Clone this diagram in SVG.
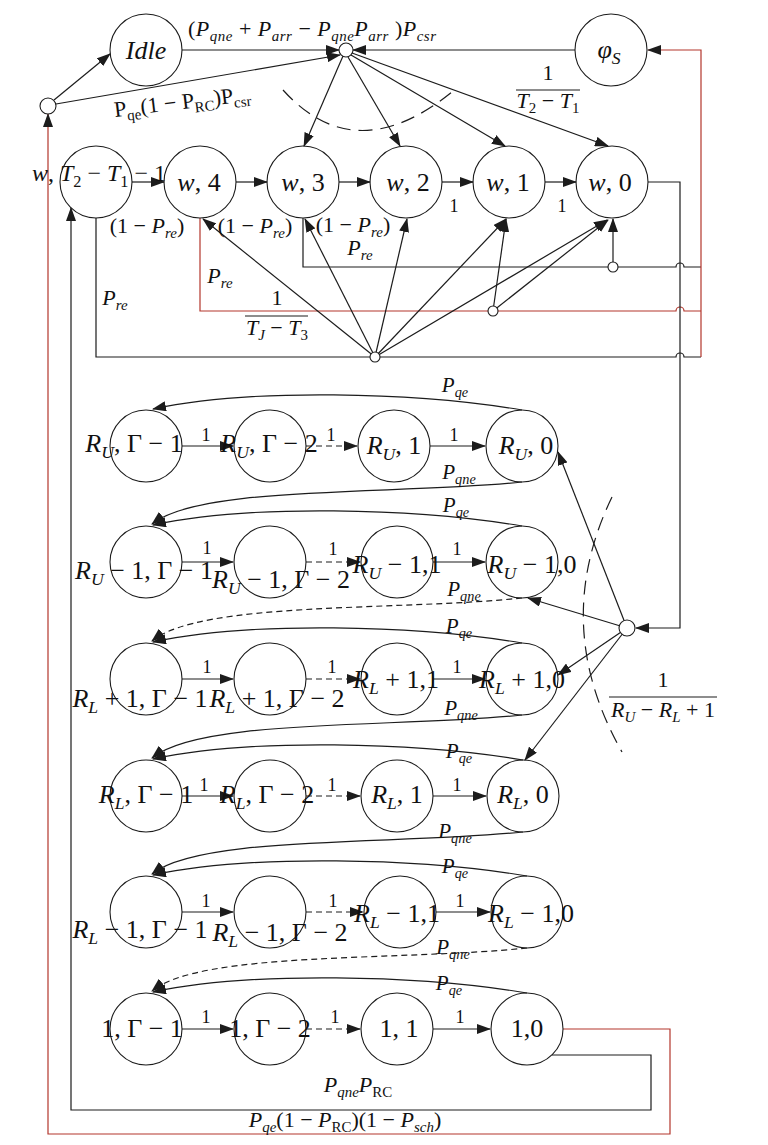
<svg xmlns="http://www.w3.org/2000/svg" width="768" height="1145" viewBox="0 0 768 1145">
<style>
.c{fill:none;stroke:#1c1c1c;stroke-width:1.2}
.r{stroke:#b3362c}
.d{stroke-dasharray:6 4}
.dl{stroke-dasharray:14 8}
.nd circle{fill:none;stroke:#1c1c1c;stroke-width:1.1}
.hb circle{fill:#fff;stroke:#1c1c1c;stroke-width:1.1}
text{font-family:"Liberation Serif","DejaVu Serif",serif;fill:#111}
.n{font-size:26px}
.e{font-size:22px}
.q{font-size:21px}
.s{font-size:18px}
.i{font-style:italic}
.sb{font-size:68%}
</style>
<defs>
<marker id="ah" markerUnits="userSpaceOnUse" markerWidth="14" markerHeight="10" viewBox="0 0 14 10" refX="13" refY="5" orient="auto"><path d="M0,0 L14,5 L0,10 z" fill="#1c1c1c"/></marker>
</defs>
<rect width="768" height="1145" fill="#fff"/>

<g id="connectors">
<path class="c" d="M54 100 L110 54" marker-end="url(#ah)"/>
<path class="c" d="M56 104 L340 55" marker-end="url(#ah)"/>
<path class="c" d="M182 50 H339" marker-end="url(#ah)"/>
<path class="c" d="M575 50 H353" marker-end="url(#ah)"/>
<path class="c" d="M343 56 L304 146" marker-end="url(#ah)"/>
<path class="c" d="M348 57 L400 146" marker-end="url(#ah)"/>
<path class="c" d="M351 55 L505 146" marker-end="url(#ah)"/>
<path class="c" d="M352 53 L608 146" marker-end="url(#ah)"/>
<path class="c dl" d="M283 90 Q355 170 452 92"/>
<path class="c" d="M132 182 H164" marker-end="url(#ah)"/>
<path class="c" d="M236 182 H267" marker-end="url(#ah)"/>
<path class="c" d="M339 182 H370" marker-end="url(#ah)"/>
<path class="c" d="M442 182 H473" marker-end="url(#ah)"/>
<path class="c" d="M545 182 H576" marker-end="url(#ah)"/>
<path class="c" d="M96 218 V357 H676 A4 4 0 0 1 684 357 H701"/>
<path class="c r" d="M200 218 V311 H676 A4 4 0 0 1 684 311 H701"/>
<path class="c" d="M303 218 V267 H676 A4 4 0 0 1 684 267 H701"/>
<path class="c r" d="M701 357 V50 H648" marker-end="url(#ah)"/>
<path class="c" d="M648 182 H680 V628 H636" marker-end="url(#ah)"/>
<path class="c" d="M375 357 L203 219" marker-end="url(#ah)"/>
<path class="c" d="M375 357 L305 219" marker-end="url(#ah)"/>
<path class="c" d="M375 357 L407 219" marker-end="url(#ah)"/>
<path class="c" d="M375 357 L506 219" marker-end="url(#ah)"/>
<path class="c" d="M375 357 L607 220" marker-end="url(#ah)"/>
<path class="c" d="M493 311 L506 219" marker-end="url(#ah)"/>
<path class="c" d="M493 311 L608 220" marker-end="url(#ah)"/>
<path class="c" d="M613 267 V219" marker-end="url(#ah)"/>
<path class="c" d="M627 628 L558 452" marker-end="url(#ah)"/>
<path class="c" d="M627 628 L528 598" marker-end="url(#ah)"/>
<path class="c" d="M627 628 L558 675" marker-end="url(#ah)"/>
<path class="c" d="M627 628 L525 760" marker-end="url(#ah)"/>
<path class="c dl" d="M612 497 Q550 625 622 752"/>
<path class="c" d="M182 446 H233" marker-end="url(#ah)"/>
<path class="c d" d="M306 446 H357" marker-end="url(#ah)"/>
<path class="c" d="M430 446 H485" marker-end="url(#ah)"/>
<path class="c" d="M182 562 H233" marker-end="url(#ah)"/>
<path class="c d" d="M306 562 H360" marker-end="url(#ah)"/>
<path class="c" d="M433 562 H485" marker-end="url(#ah)"/>
<path class="c" d="M182 679 H233" marker-end="url(#ah)"/>
<path class="c d" d="M306 679 H360" marker-end="url(#ah)"/>
<path class="c" d="M433 679 H485" marker-end="url(#ah)"/>
<path class="c" d="M182 796 H233" marker-end="url(#ah)"/>
<path class="c d" d="M306 796 H360" marker-end="url(#ah)"/>
<path class="c" d="M433 796 H486" marker-end="url(#ah)"/>
<path class="c" d="M182 912 H233" marker-end="url(#ah)"/>
<path class="c d" d="M306 912 H363" marker-end="url(#ah)"/>
<path class="c" d="M436 912 H490" marker-end="url(#ah)"/>
<path class="c" d="M182 1029 H233" marker-end="url(#ah)"/>
<path class="c d" d="M306 1029 H360" marker-end="url(#ah)"/>
<path class="c" d="M433 1029 H490" marker-end="url(#ah)"/>
<path class="c" d="M522 410 C415 392 250 388 153 409" marker-end="url(#ah)"/>
<path class="c" d="M522 526 C415 508 250 504 153 525" marker-end="url(#ah)"/>
<path class="c" d="M522 643 C415 625 250 621 153 642" marker-end="url(#ah)"/>
<path class="c" d="M523 760 C416 742 250 738 153 759" marker-end="url(#ah)"/>
<path class="c" d="M527 876 C420 858 250 854 153 875" marker-end="url(#ah)"/>
<path class="c" d="M527 993 C420 975 250 971 153 992" marker-end="url(#ah)"/>
<path class="c" d="M522 482 C398 495 200 485 152 524" marker-end="url(#ah)"/>
<path class="c d" d="M522 598 C398 611 200 601 152 641" marker-end="url(#ah)"/>
<path class="c" d="M522 715 C398 728 200 718 152 758" marker-end="url(#ah)"/>
<path class="c" d="M523 832 C399 845 200 835 152 874" marker-end="url(#ah)"/>
<path class="c d" d="M527 948 C403 961 200 951 152 991" marker-end="url(#ah)"/>
<path class="c" d="M552 1055 H651 V1110 H71 V208" marker-end="url(#ah)"/>
<path class="c r" d="M563 1029 H670 V1134 H48 V114" marker-end="url(#ah)"/>
<text class="e" x="188" y="36" letter-spacing="0.5">(<tspan class="i">P</tspan><tspan class="i sb" dy="5">qne</tspan><tspan dy="-5"> + </tspan><tspan class="i">P</tspan><tspan class="i sb" dy="5">arr</tspan><tspan dy="-5"> − </tspan><tspan class="i">P</tspan><tspan class="i sb" dy="5">qne</tspan><tspan class="i" dy="-5">P</tspan><tspan class="i sb" dy="5">arr</tspan><tspan dy="-5" dx="6">)</tspan><tspan class="i">P</tspan><tspan class="i sb" dy="5">csr</tspan></text>
<text class="e" x="115" y="117" transform="rotate(-6.8 115 117)">P<tspan class="sb" dy="5">qe</tspan><tspan dy="-5">(1 − P</tspan><tspan class="sb" dy="5">RC</tspan><tspan dy="-5">)P</tspan><tspan class="sb" dy="5">csr</tspan></text>
<text class="e" x="548" y="80" text-anchor="middle">1</text>
<path class="c" d="M516 90 H580"/>
<text class="e" x="548" y="108" text-anchor="middle"><tspan class="i">T</tspan><tspan class="sb" dy="5">2</tspan><tspan dy="-5"> − </tspan><tspan class="i">T</tspan><tspan class="sb" dy="5">1</tspan></text>
<text class="e" x="147" y="233" text-anchor="middle">(1 − <tspan class="i">P</tspan><tspan class="i sb" dy="5">re</tspan><tspan dy="-5">)</tspan></text>
<text class="e" x="255" y="233" text-anchor="middle">(1 − <tspan class="i">P</tspan><tspan class="i sb" dy="5">re</tspan><tspan dy="-5">)</tspan></text>
<text class="e" x="353" y="232" text-anchor="middle">(1 − <tspan class="i">P</tspan><tspan class="i sb" dy="5">re</tspan><tspan dy="-5">)</tspan></text>
<text class="e i" x="360" y="255" text-anchor="middle">P<tspan class="sb" dy="5">re</tspan></text>
<text class="e i" x="220" y="283" text-anchor="middle">P<tspan class="sb" dy="5">re</tspan></text>
<text class="e i" x="115" y="305" text-anchor="middle">P<tspan class="sb" dy="5">re</tspan></text>
<text class="s" x="454" y="212" text-anchor="middle">1</text>
<text class="s" x="562" y="212" text-anchor="middle">1</text>
<text class="e" x="277" y="305" text-anchor="middle">1</text>
<path class="c" d="M245 316 H308"/>
<text class="e" x="277" y="335" text-anchor="middle"><tspan class="i">T</tspan><tspan class="i sb" dy="5">J</tspan><tspan dy="-5"> − </tspan><tspan class="i">T</tspan><tspan class="sb" dy="5">3</tspan></text>
<text class="e" x="663" y="687" text-anchor="middle">1</text>
<path class="c" d="M609 697 H717"/>
<text class="e" x="663" y="717" text-anchor="middle"><tspan class="i">R</tspan><tspan class="i sb" dy="5">U</tspan><tspan dy="-5"> − </tspan><tspan class="i">R</tspan><tspan class="i sb" dy="5">L</tspan><tspan dy="-5"> + 1</tspan></text>
<text class="s" x="206" y="441" text-anchor="middle">1</text>
<text class="s" x="331" y="441" text-anchor="middle">1</text>
<text class="s" x="454" y="441" text-anchor="middle">1</text>
<text class="s" x="207" y="554" text-anchor="middle">1</text>
<text class="s" x="333" y="555" text-anchor="middle">1</text>
<text class="s" x="457" y="555" text-anchor="middle">1</text>
<text class="s" x="207" y="673" text-anchor="middle">1</text>
<text class="s" x="332" y="673" text-anchor="middle">1</text>
<text class="s" x="457" y="673" text-anchor="middle">1</text>
<text class="s" x="204" y="791" text-anchor="middle">1</text>
<text class="s" x="332" y="791" text-anchor="middle">1</text>
<text class="s" x="457" y="791" text-anchor="middle">1</text>
<text class="s" x="206" y="907" text-anchor="middle">1</text>
<text class="s" x="333" y="907" text-anchor="middle">1</text>
<text class="s" x="460" y="907" text-anchor="middle">1</text>
<text class="s" x="206" y="1023" text-anchor="middle">1</text>
<text class="s" x="335" y="1023" text-anchor="middle">1</text>
<text class="s" x="460" y="1023" text-anchor="middle">1</text>
<text class="q i" x="455" y="392" text-anchor="middle">P<tspan class="sb" dy="5">qe</tspan></text>
<text class="q i" x="456" y="512" text-anchor="middle">P<tspan class="sb" dy="5">qe</tspan></text>
<text class="q i" x="459" y="633" text-anchor="middle">P<tspan class="sb" dy="5">qe</tspan></text>
<text class="q i" x="459" y="758" text-anchor="middle">P<tspan class="sb" dy="5">qe</tspan></text>
<text class="q i" x="455" y="873" text-anchor="middle">P<tspan class="sb" dy="5">qe</tspan></text>
<text class="q i" x="449" y="990" text-anchor="middle">P<tspan class="sb" dy="5">qe</tspan></text>
<text class="q i" x="459" y="479" text-anchor="middle">P<tspan class="sb" dy="5">qne</tspan></text>
<text class="q i" x="464" y="596" text-anchor="middle">P<tspan class="sb" dy="5">qne</tspan></text>
<text class="q i" x="461" y="715" text-anchor="middle">P<tspan class="sb" dy="5">qne</tspan></text>
<text class="q i" x="455" y="838" text-anchor="middle">P<tspan class="sb" dy="5">qne</tspan></text>
<text class="q i" x="453" y="954" text-anchor="middle">P<tspan class="sb" dy="5">qne</tspan></text>
<text class="e" x="358" y="1092" text-anchor="middle"><tspan class="i">P</tspan><tspan class="i sb" dy="5">qne</tspan><tspan class="i" dy="-5">P</tspan><tspan class="sb" dy="5">RC</tspan></text>
<text class="e" x="345" y="1127" text-anchor="middle"><tspan class="i">P</tspan><tspan class="i sb" dy="5">qe</tspan><tspan dy="-5">(1 − </tspan><tspan class="i">P</tspan><tspan class="sb" dy="5">RC</tspan><tspan dy="-5">)(1 − </tspan><tspan class="i">P</tspan><tspan class="i sb" dy="5">sch</tspan><tspan dy="-5">)</tspan></text>
</g>

<g id="hub_top" class="hb"><circle cx="346" cy="50" r="7"/></g>
<g id="hub_left" class="hb"><circle cx="48" cy="106" r="8"/></g>
<g id="hub_bottom" class="hb"><circle cx="375" cy="357" r="5"/></g>
<g id="hub_j1" class="hb"><circle cx="493" cy="311" r="5"/></g>
<g id="hub_j0" class="hb"><circle cx="613" cy="267" r="5"/></g>
<g id="hub_right" class="hb"><circle cx="627" cy="628" r="8"/></g>

<g id="n_idle" class="nd"><circle cx="146" cy="50" r="36"/><text class="n i" x="146" y="59" text-anchor="middle">Idle</text></g>
<g id="n_phi" class="nd"><circle cx="611" cy="50" r="36"/><text class="n i" x="609" y="58" text-anchor="middle">φ<tspan class="sb" dy="6">S</tspan></text></g>

<g id="n_wT" class="nd"><circle cx="96" cy="182" r="36"/><text x="99" y="181" font-size="24" text-anchor="middle"><tspan class="i">w</tspan>, <tspan class="i">T</tspan><tspan class="sb" dy="6">2</tspan><tspan dy="-6"> − </tspan><tspan class="i">T</tspan><tspan class="sb" dy="6">1</tspan><tspan dy="-6"> − 1</tspan></text></g>
<g id="n_w4" class="nd"><circle cx="200" cy="182" r="36"/><text class="n" x="199" y="191" text-anchor="middle"><tspan class="i">w</tspan>, 4</text></g>
<g id="n_w3" class="nd"><circle cx="303" cy="182" r="36"/><text class="n" x="303" y="191" text-anchor="middle"><tspan class="i">w</tspan>, 3</text></g>
<g id="n_w2" class="nd"><circle cx="406" cy="182" r="36"/><text class="n" x="408" y="191" text-anchor="middle"><tspan class="i">w</tspan>, 2</text></g>
<g id="n_w1" class="nd"><circle cx="509" cy="182" r="36"/><text class="n" x="508" y="191" text-anchor="middle"><tspan class="i">w</tspan>, 1</text></g>
<g id="n_w0" class="nd"><circle cx="612" cy="182" r="36"/><text class="n" x="610" y="191" text-anchor="middle"><tspan class="i">w</tspan>, 0</text></g>

<g id="n_RU_G1" class="nd"><circle cx="146" cy="446" r="36"/><text class="n" x="134" y="452" text-anchor="middle"><tspan class="i">R</tspan><tspan class="i sb" dy="6">U</tspan><tspan dy="-6">, Γ − 1</tspan></text></g>
<g id="n_RU_G2" class="nd"><circle cx="270" cy="446" r="36"/><text class="n" x="269" y="452" text-anchor="middle"><tspan class="i">R</tspan><tspan class="i sb" dy="6">U</tspan><tspan dy="-6">, Γ − 2</tspan></text></g>
<g id="n_RU_1" class="nd"><circle cx="394" cy="446" r="36"/><text class="n" x="394" y="454" text-anchor="middle"><tspan class="i">R</tspan><tspan class="i sb" dy="6">U</tspan><tspan dy="-6">, 1</tspan></text></g>
<g id="n_RU_0" class="nd"><circle cx="522" cy="446" r="36"/><text class="n" x="526" y="454" text-anchor="middle"><tspan class="i">R</tspan><tspan class="i sb" dy="6">U</tspan><tspan dy="-6">, 0</tspan></text></g>

<g id="n_RUm1_G1" class="nd"><circle cx="146" cy="562" r="36"/><text class="n" x="144" y="579" text-anchor="middle"><tspan class="i">R</tspan><tspan class="i sb" dy="6">U</tspan><tspan dy="-6"> − 1, Γ − 1</tspan></text></g>
<g id="n_RUm1_G2" class="nd"><circle cx="270" cy="562" r="36"/><text class="n" x="281" y="588" text-anchor="middle"><tspan class="i">R</tspan><tspan class="i sb" dy="6">U</tspan><tspan dy="-6"> − 1, Γ − 2</tspan></text></g>
<g id="n_RUm1_1" class="nd"><circle cx="397" cy="562" r="36"/><text class="n" x="397" y="573" text-anchor="middle"><tspan class="i">R</tspan><tspan class="i sb" dy="6">U</tspan><tspan dy="-6"> − 1,1</tspan></text></g>
<g id="n_RUm1_0" class="nd"><circle cx="522" cy="562" r="36"/><text class="n" x="532" y="573" text-anchor="middle"><tspan class="i">R</tspan><tspan class="i sb" dy="6">U</tspan><tspan dy="-6"> − 1,0</tspan></text></g>

<g id="n_RLp1_G1" class="nd"><circle cx="146" cy="679" r="36"/><text class="n" x="140" y="707" text-anchor="middle"><tspan class="i">R</tspan><tspan class="i sb" dy="6">L</tspan><tspan dy="-6"> + 1, Γ − 1</tspan></text></g>
<g id="n_RLp1_G2" class="nd"><circle cx="270" cy="679" r="36"/><text class="n" x="277" y="707" text-anchor="middle"><tspan class="i">R</tspan><tspan class="i sb" dy="6">L</tspan><tspan dy="-6"> + 1, Γ − 2</tspan></text></g>
<g id="n_RLp1_1" class="nd"><circle cx="397" cy="679" r="36"/><text class="n" x="396" y="688" text-anchor="middle"><tspan class="i">R</tspan><tspan class="i sb" dy="6">L</tspan><tspan dy="-6"> + 1,1</tspan></text></g>
<g id="n_RLp1_0" class="nd"><circle cx="522" cy="679" r="36"/><text class="n" x="522" y="688" text-anchor="middle"><tspan class="i">R</tspan><tspan class="i sb" dy="6">L</tspan><tspan dy="-6"> + 1,0</tspan></text></g>

<g id="n_RL_G1" class="nd"><circle cx="146" cy="796" r="36"/><text class="n" x="146" y="803" text-anchor="middle"><tspan class="i">R</tspan><tspan class="i sb" dy="6">L</tspan><tspan dy="-6">, Γ − 1</tspan></text></g>
<g id="n_RL_G2" class="nd"><circle cx="270" cy="796" r="36"/><text class="n" x="267" y="803" text-anchor="middle"><tspan class="i">R</tspan><tspan class="i sb" dy="6">L</tspan><tspan dy="-6">, Γ − 2</tspan></text></g>
<g id="n_RL_1" class="nd"><circle cx="397" cy="796" r="36"/><text class="n" x="397" y="803" text-anchor="middle"><tspan class="i">R</tspan><tspan class="i sb" dy="6">L</tspan><tspan dy="-6">, 1</tspan></text></g>
<g id="n_RL_0" class="nd"><circle cx="523" cy="796" r="36"/><text class="n" x="523" y="803" text-anchor="middle"><tspan class="i">R</tspan><tspan class="i sb" dy="6">L</tspan><tspan dy="-6">, 0</tspan></text></g>

<g id="n_RLm1_G1" class="nd"><circle cx="146" cy="912" r="36"/><text class="n" x="140" y="938" text-anchor="middle"><tspan class="i">R</tspan><tspan class="i sb" dy="6">L</tspan><tspan dy="-6"> − 1, Γ − 1</tspan></text></g>
<g id="n_RLm1_G2" class="nd"><circle cx="270" cy="912" r="36"/><text class="n" x="280" y="941" text-anchor="middle"><tspan class="i">R</tspan><tspan class="i sb" dy="6">L</tspan><tspan dy="-6"> − 1, Γ − 2</tspan></text></g>
<g id="n_RLm1_1" class="nd"><circle cx="400" cy="912" r="36"/><text class="n" x="397" y="922" text-anchor="middle"><tspan class="i">R</tspan><tspan class="i sb" dy="6">L</tspan><tspan dy="-6"> − 1,1</tspan></text></g>
<g id="n_RLm1_0" class="nd"><circle cx="527" cy="912" r="36"/><text class="n" x="531" y="922" text-anchor="middle"><tspan class="i">R</tspan><tspan class="i sb" dy="6">L</tspan><tspan dy="-6"> − 1,0</tspan></text></g>

<g id="n_1_G1" class="nd"><circle cx="146" cy="1029" r="36"/><text class="n" x="142" y="1037" text-anchor="middle">1, Γ − 1</text></g>
<g id="n_1_G2" class="nd"><circle cx="270" cy="1029" r="36"/><text class="n" x="270" y="1037" text-anchor="middle">1, Γ − 2</text></g>
<g id="n_1_1" class="nd"><circle cx="397" cy="1029" r="36"/><text class="n" x="399" y="1037" text-anchor="middle">1, 1</text></g>
<g id="n_1_0" class="nd"><circle cx="527" cy="1029" r="36"/><text class="n" x="527" y="1037" text-anchor="middle">1,0</text></g>
</svg>
